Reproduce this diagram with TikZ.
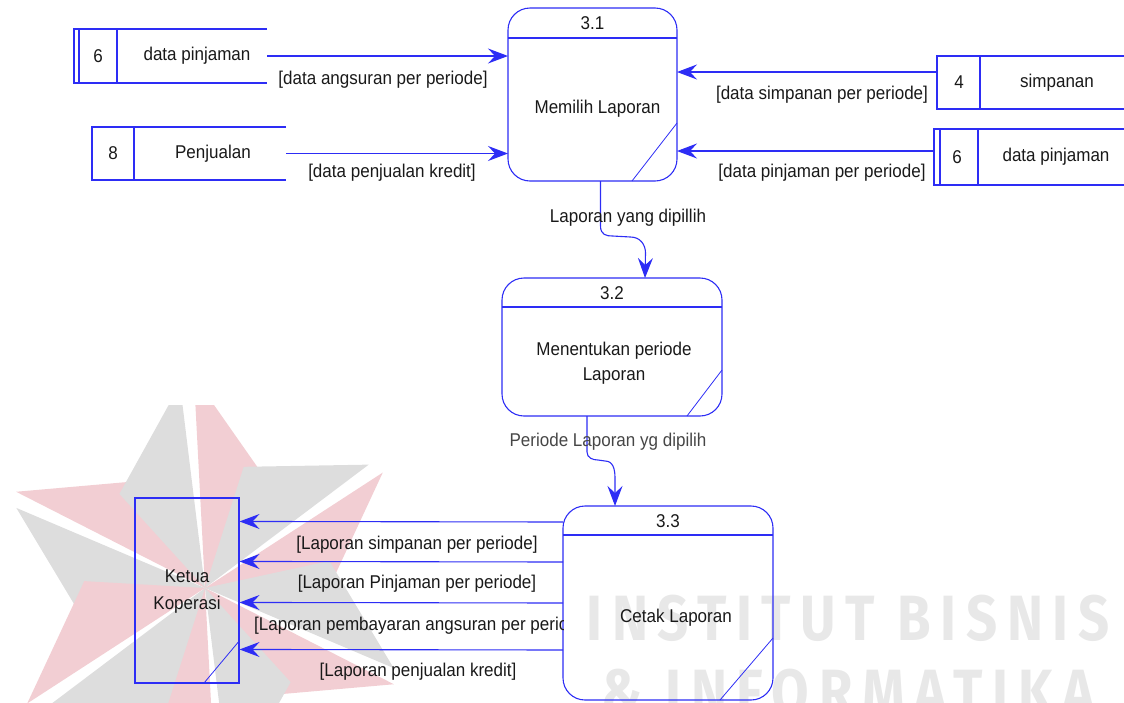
\documentclass[tikz,border=0pt]{standalone}
\usepackage{fontspec}
\setmainfont{Liberation Sans}[FakeStretch=0.92]
\newfontfamily\wmfont[LetterSpace=15,FakeStretch=0.85]{Fira Sans}
\usepackage{tikz}
\usetikzlibrary{positioning,calc,arrows.meta}
\definecolor{dfdblue}{RGB}{45,45,245}
\definecolor{inkgray}{RGB}{25,25,25}
\definecolor{softgray}{RGB}{70,70,70}
\definecolor{wmred}{RGB}{242,206,211}
\definecolor{wmgray}{RGB}{221,221,221}
\definecolor{wmletter}{RGB}{232,232,232}

\tikzset{
  flow/.style={draw=dfdblue, line width=1.1pt, -{Stealth[length=20pt,width=15pt,inset=7pt]}},
  proc/.style={draw=dfdblue, line width=1.1pt, rounded corners=22pt, inner sep=0pt, outer sep=0pt},
  store/.style={inner sep=0pt, outer sep=0pt},
  storeline/.style={draw=dfdblue, line width=1.1pt},
  txt/.style={text=inkgray, font=\fontsize{18.5}{25}\selectfont, inner sep=1pt, align=center},
  wmtext/.style={text=wmletter, font=\wmfont\bfseries\fontsize{64}{64}\selectfont, inner sep=0pt}
}

\begin{document}
\begin{tikzpicture}[x=1pt,y=-1pt]
        \useasboundingbox (0,0) rectangle (1124,702);

        % Watermark
        \begin{scope}
        \clip (0,405) rectangle (1124,702);
        \foreach \a in {207,267,327,27,87,147} {
          \fill[wmgray] (205,588) -- ++(\a-4:205) -- ++(\a-148:125) -- cycle;
          \fill[wmred] (205,588) -- ++(\a:212) -- ++(\a+148:135) -- cycle;
        }
        \end{scope}
        \node[wmtext] (wm1) at (848,618) {INSTITUT BISNIS};
        \node[wmtext] (wm2) at (848,692) {\& INFORMATIKA};

        % Processes
        \node[proc, minimum width=169pt, minimum height=173pt] (p31) at (592.5,94.5) {};
        \node[proc, minimum width=220pt, minimum height=138pt] (p32) at (612,347) {};
        \draw[storeline] ($(p31.north west)+(0,30)$) -- ($(p31.north east)+(0,30)$);
        \draw[storeline, line width=0.8pt] ($(p31.south east)+(0,-58)$) -- ($(p31.south east)+(-45,0)$);
        \draw[storeline] ($(p32.north west)+(0,29)$) -- ($(p32.north east)+(0,29)$);
        \draw[storeline, line width=0.8pt] ($(p32.south east)+(0,-46)$) -- ($(p32.south east)+(-35,0)$);
        \node[txt] (p31id) at ($(p31.north)+(0,15)$) {3.1};
        \node[txt] (p31name) at ($(p31.center)+(5,14)$) {Memilih Laporan};
        \node[txt] (p32id) at ($(p32.north)+(0,15)$) {3.2};
        \node[txt] (p32name) at ($(p32.center)+(2,16)$) {Menentukan periode\\Laporan};

        % Data stores, left
        \node[store, minimum width=193pt, minimum height=54pt] (ds6) at (170.5,56) {};
        \draw[storeline] (ds6.north east) -- (ds6.north west) -- (ds6.south west) -- (ds6.south east);
        \draw[storeline] ($(ds6.north west)+(5,0)$) -- ($(ds6.south west)+(5,0)$);
        \draw[storeline] ($(ds6.north west)+(43,0)$) -- ($(ds6.south west)+(43,0)$);
        \node[txt] (ds6id) at ($(ds6.west)+(24,0)$) {6};
        \node[txt] (ds6name) at ($(ds6.west)+(123,0)$) {data pinjaman};

        \node[store, minimum width=194pt, minimum height=53pt] (ds8) at (189,153.5) {};
        \draw[storeline] (ds8.north east) -- (ds8.north west) -- (ds8.south west) -- (ds8.south east);
        \draw[storeline] ($(ds8.north west)+(42,0)$) -- ($(ds8.south west)+(42,0)$);
        \node[txt] (ds8id) at ($(ds8.west)+(21,0)$) {8};
        \node[txt] (ds8name) at ($(ds8.west)+(121,0)$) {Penjualan};

        % Data stores, right
        \node[store, minimum width=187pt, minimum height=53pt] (ds4) at (1030.5,82.5) {};
        \draw[storeline] (ds4.north east) -- (ds4.north west) -- (ds4.south west) -- (ds4.south east);
        \draw[storeline] ($(ds4.north west)+(43,0)$) -- ($(ds4.south west)+(43,0)$);
        \node[txt] (ds4id) at ($(ds4.west)+(22,0)$) {4};
        \node[txt] (ds4name) at ($(ds4.west)+(120,0)$) {simpanan};

        \node[store, minimum width=190pt, minimum height=56pt] (ds6r) at (1029,157) {};
        \draw[storeline] (ds6r.north east) -- (ds6r.north west) -- (ds6r.south west) -- (ds6r.south east);
        \draw[storeline] ($(ds6r.north west)+(6,0)$) -- ($(ds6r.south west)+(6,0)$);
        \draw[storeline] ($(ds6r.north west)+(44,0)$) -- ($(ds6r.south west)+(44,0)$);
        \node[txt] (ds6rid) at ($(ds6r.west)+(23,0)$) {6};
        \node[txt] (ds6rname) at ($(ds6r.west)+(122,0)$) {data pinjaman};

        % Flows into 3.1
        \draw[flow] (ds6.east) -- (ds6.east -| p31.west);
        \draw[flow] (ds8.east) -- (ds8.east -| p31.west);
        \draw[flow] ($(ds4.north west)+(0,16)$) -- ($(p31.north east)+(0,64)$);
        \draw[flow] ($(ds6r.north west)+(0,22)$) -- ($(p31.north east)+(0,143)$);
        \node[txt] (l1) at (383,80) {[data angsuran per periode]};
        \node[txt] (l2) at (392,173) {[data penjualan kredit]};
        \node[txt] (l3) at (822,95) {[data simpanan per periode]};
        \node[txt] (l4) at (822,173) {[data pinjaman per periode]};

        % 3.1 -> 3.2 -> 3.3
        \node[proc, minimum width=210pt, minimum height=194pt] (p33) at (668,603) {};
        \draw[flow] ($(p31.south)+(8,0)$) -- ++(0,45) .. controls +(0,9) and +(-6,0) .. ++(12,10)
            -- ++(18,1) .. controls +(10,0) and +(0,-8) .. ++(15,16) -- ($(p32.north)+(33,0)$);
        \node[txt] (l5) at (628,218) {Laporan yang dipillih};
        \draw[flow] ($(p32.south)+(-25,0)$) -- ++(0,36) .. controls +(0,6) and +(-5,0) .. ++(11,8)
            -- ++(7,1) .. controls +(8,0) and +(0,-9) .. ++(10,17) -- ($(p33.north)+(-53,0)$);
        \node[txt, text=softgray] (l6) at (608,442) {Periode Laporan yg dipilih};
        \draw[storeline] ($(p33.north west)+(0,29)$) -- ($(p33.north east)+(0,29)$);
        \draw[storeline, line width=0.8pt] ($(p33.south east)+(0,-62)$) -- ($(p33.south east)+(-53,0)$);
        \node[txt] (p33id) at ($(p33.north)+(0,15)$) {3.3};
        \node[txt] (p33name) at ($(p33.center)+(8,15)$) {Cetak Laporan};

        % External entity
        \node[draw=dfdblue, line width=1.1pt, minimum width=104pt, minimum height=185pt, inner sep=0pt] (ketua) at (187,590.5) {};
        \draw[storeline, line width=0.8pt] ($(ketua.south east)+(0,-43)$) -- ($(ketua.south east)+(-36,0)$);
        \node[txt] (ketuaname) at ($(ketua.center)+(0,1)$) {Ketua\\[2pt]Koperasi};

        % Flows out of 3.3
        \draw[flow] ($(p33.north west)+(0,16)$) -- ($(ketua.north east)+(0,24)$);
        \draw[flow] ($(p33.north west)+(0,56)$) -- ($(ketua.north east)+(0,64)$);
        \draw[flow] ($(p33.north west)+(0,97)$) -- ($(ketua.north east)+(0,105)$);
        \draw[flow] ($(p33.north west)+(0,144)$) -- ($(ketua.north east)+(0,152)$);
        \node[txt] (l7) at (417,545) {[Laporan simpanan per periode]};
        \node[txt] (l8) at (417,584) {[Laporan Pinjaman per periode]};
        \begin{scope}
        \clip ($(p33.north west)+(-400,100)$) rectangle ($(p33.north west)+(0,140)$);
        \node[txt, anchor=west] (l9) at (253,626) {[Laporan pembayaran angsuran per periode]};
        \end{scope}
        \node[txt] (l10) at (418,672) {[Laporan penjualan kredit]};

    \end{tikzpicture}
\end{document}
